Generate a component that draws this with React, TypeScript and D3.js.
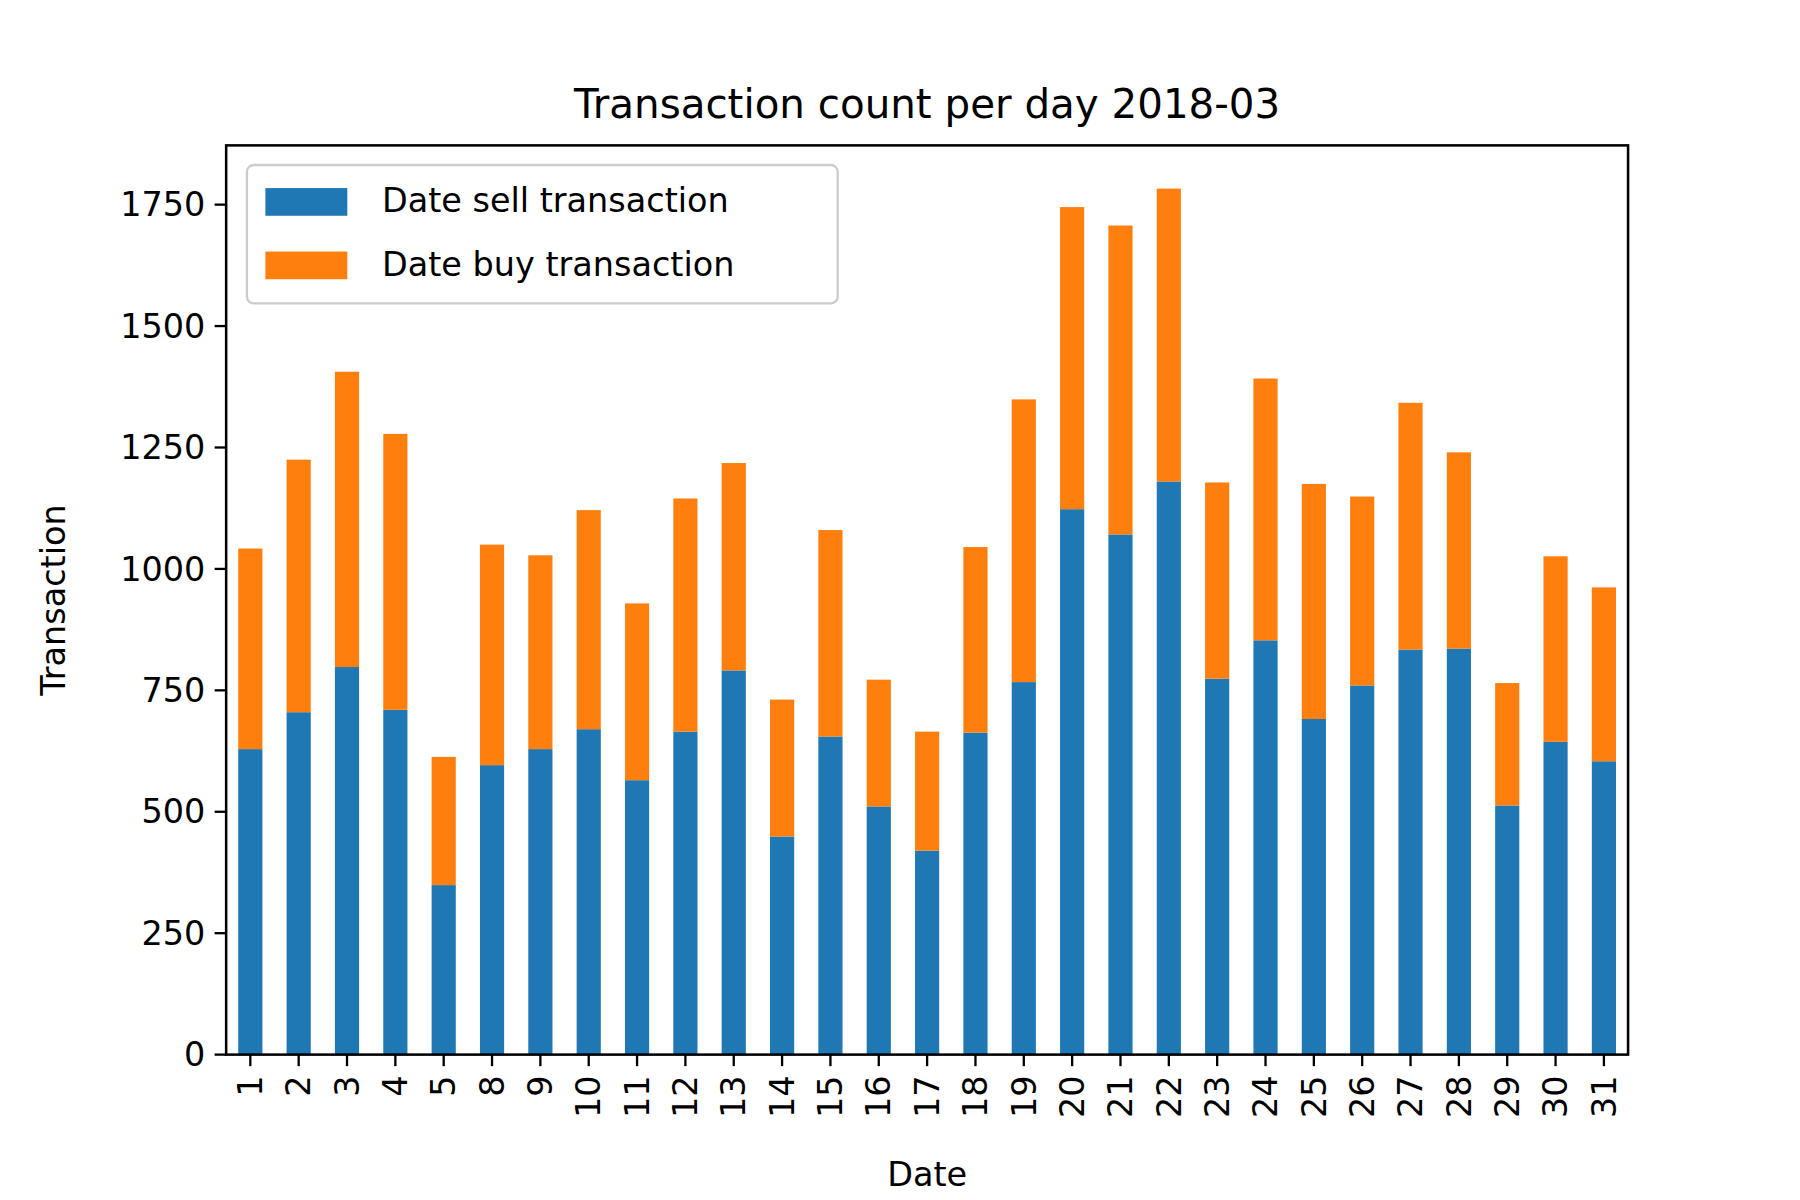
import React, { useRef, useEffect } from 'react';
import * as d3 from 'd3';

const days = ['1', '2', '3', '4', '5', '8', '9', '10', '11', '12', '13', '14', '15', '16', '17', '18', '19', '20', '21', '22', '23', '24', '25', '26', '27', '28', '29', '30', '31'];
const sellValues = [629, 705, 798, 710, 349, 596, 629, 670, 565, 665, 791, 449, 655, 511, 420, 663, 767, 1123, 1071, 1180, 774, 853, 691, 760, 834, 836, 513, 644, 604];
const buyValues = [413, 520, 608, 568, 264, 454, 399, 451, 364, 480, 427, 282, 425, 261, 245, 382, 582, 622, 636, 603, 404, 539, 484, 389, 508, 404, 252, 382, 358];
const yTicks = [0, 250, 500, 750, 1000, 1250, 1500, 1750];

const BLUE = '#1f77b4';
const ORANGE = '#ff7f0e';
const FONT = 'DejaVu Sans, sans-serif';

export default function App() {
    const svgRef = useRef(null);

    useEffect(() => {
        const root = d3.select(svgRef.current);
        root.selectAll('*').remove();
        // layout worked out at 1560 wide, scaled to the 1800 px canvas
        const svg = root.append('g').attr('transform', `scale(${1800 / 1560})`);

        const left = 196, right = 1411, top = 126, bottom = 914;

        const x = d3.scaleBand().domain(days).range([left, right]).paddingInner(0.5).paddingOuter(0.25);
        const y = d3.scaleLinear().domain([0, 1872]).range([bottom, top]);

        // stacked bars
        days.forEach((d, i) => {
            svg.append('rect')
                .attr('x', x(d)).attr('width', x.bandwidth())
                .attr('y', y(sellValues[i])).attr('height', y(0) - y(sellValues[i]))
                .attr('fill', BLUE);
            svg.append('rect')
                .attr('x', x(d)).attr('width', x.bandwidth())
                .attr('y', y(sellValues[i] + buyValues[i])).attr('height', y(sellValues[i]) - y(sellValues[i] + buyValues[i]))
                .attr('fill', ORANGE);
        });

        // frame
        svg.append('rect')
            .attr('x', left).attr('y', top).attr('width', right - left).attr('height', bottom - top)
            .attr('fill', 'none').attr('stroke', 'black').attr('stroke-width', 2.2);

        // y ticks
        yTicks.forEach(t => {
            svg.append('line').attr('x1', left - 10).attr('x2', left).attr('y1', y(t)).attr('y2', y(t))
                .attr('stroke', 'black').attr('stroke-width', 2);
            svg.append('text').attr('x', left - 18).attr('y', y(t)).attr('dy', '0.35em')
                .attr('text-anchor', 'end').attr('font-family', FONT).attr('font-size', 29).text(t);
        });

        // x ticks
        days.forEach(d => {
            const cx = x(d) + x.bandwidth() / 2;
            svg.append('line').attr('x1', cx).attr('x2', cx).attr('y1', bottom).attr('y2', bottom + 10)
                .attr('stroke', 'black').attr('stroke-width', 2);
            svg.append('text')
                .attr('transform', `translate(${cx},${bottom + 18}) rotate(-90)`)
                .attr('dy', '0.35em').attr('text-anchor', 'end')
                .attr('font-family', FONT).attr('font-size', 29).text(d);
        });

        svg.append('text').attr('x', (left + right) / 2).attr('y', 1028).attr('text-anchor', 'middle')
            .attr('font-family', FONT).attr('font-size', 29).text('Date');
        svg.append('text').attr('transform', `translate(56,${(top + bottom) / 2}) rotate(-90)`)
            .attr('text-anchor', 'middle').attr('font-family', FONT).attr('font-size', 29).text('Transaction');
        svg.append('text').attr('x', (left + right) / 2).attr('y', 102).attr('text-anchor', 'middle')
            .attr('font-family', FONT).attr('font-size', 35).text('Transaction count per day 2018-03');

        // legend
        const lg = svg.append('g');
        lg.append('rect').attr('x', 214).attr('y', 143).attr('width', 512).attr('height', 120).attr('rx', 6)
            .attr('fill', 'white').attr('fill-opacity', 0.8).attr('stroke', '#cccccc').attr('stroke-width', 2);
        [['Date sell transaction', BLUE], ['Date buy transaction', ORANGE]].forEach(([label, c], i) => {
            const cy = 174 + i * 55;
            lg.append('rect').attr('x', 230).attr('y', cy - 11).attr('width', 71).attr('height', 24).attr('fill', c);
            lg.append('text').attr('x', 331).attr('y', cy).attr('dy', '0.35em')
                .attr('font-family', FONT).attr('font-size', 29).text(label);
        });
    }, []);

    return (
        <div style={{ margin: -8 }}>
            <svg ref={svgRef} width="1800" height="1200" style={{ display: 'block', background: 'white' }}></svg>
        </div>
    );
}
